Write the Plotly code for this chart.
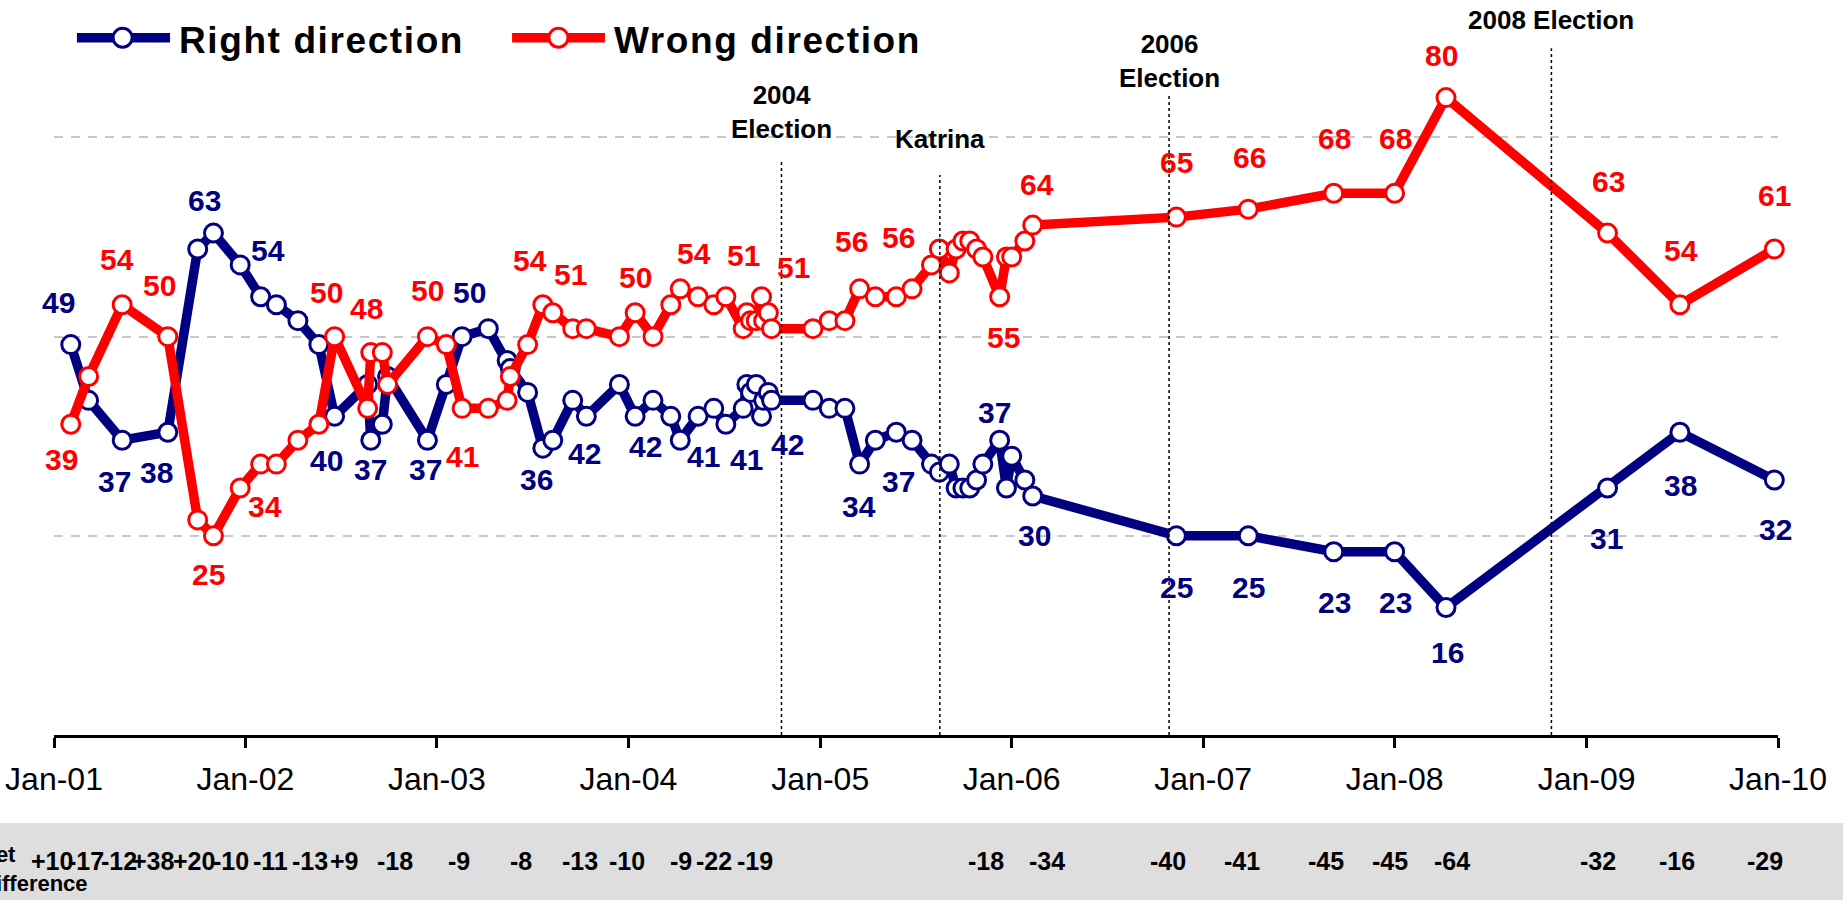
import plotly.graph_objects as go

# ---------------- data ----------------
survey_dates = [
    "2001-02-02", "2001-03-08", "2001-05-11", "2001-08-06", "2001-10-02", "2001-11-01", "2001-12-22",
    "2002-01-30", "2002-03-01", "2002-04-11", "2002-05-21", "2002-06-20", "2002-08-22", "2002-08-28",
    "2002-09-19", "2002-09-29", "2002-12-14",
    "2003-01-19", "2003-02-18", "2003-04-09", "2003-05-15", "2003-05-21", "2003-06-23", "2003-07-22",
    "2003-08-10", "2003-09-17", "2003-10-13", "2003-12-15",
    "2004-01-14", "2004-02-17", "2004-03-22", "2004-04-09", "2004-05-13", "2004-06-12", "2004-07-05",
    "2004-08-07", "2004-08-14", "2004-08-21", "2004-09-01", "2004-09-11", "2004-09-15", "2004-09-24",
    "2004-09-30", "2004-12-18",
    "2005-01-18", "2005-02-17", "2005-03-17", "2005-04-16", "2005-05-26", "2005-06-25", "2005-08-01",
    "2005-08-16", "2005-09-04", "2005-09-17", "2005-09-30", "2005-10-13", "2005-10-26", "2005-11-07",
    "2005-12-09", "2005-12-22",
    "2006-01-01", "2006-01-26", "2006-02-10", "2006-11-11",
    "2007-03-28", "2007-09-07", "2008-01-01", "2008-04-08", "2009-02-10", "2009-06-28", "2009-12-25",
]
right_direction = [
    49, 42, 37, 38, 61, 63, 59,
    55, 54, 52, 49, 40, 44, 37, 39, 45, 37,
    44, 50, 51, 47, 46, 43, 36, 37, 42, 40, 44,
    40, 42, 40, 37, 40, 41, 39, 41, 44, 43, 44, 40, 42, 43, 42, 42,
    41, 41, 34, 37, 38, 37, 34, 33, 34, 31, 31, 31, 32, 34, 37, 31,
    35, 32, 30, 25,
    25, 23, 23, 16, 31, 38, 32,
]
wrong_direction = [
    39, 45, 54, 50, 27, 25, 31,
    34, 34, 37, 39, 50, 41, 48, 48, 44, 50,
    49, 41, 41, 42, 45, 49, 54, 53, 51, 51, 50,
    53, 50, 54, 56, 55, 54, 55, 51, 53, 52, 52, 55, 52, 53, 51, 51,
    52, 52, 56, 55, 55, 56, 59, 61, 58, 61, 62, 62, 61, 60, 55, 60,
    60, 62, 64, 65,
    66, 68, 68, 80, 63, 54, 61,
]
# surveys whose values are printed (0-based index)
labeled_points = [0, 2, 3, 5, 8, 11, 13, 16, 18, 23, 25, 29, 33, 35, 42, 46, 49, 58,
                  62, 63, 64, 65, 66, 67, 68, 69, 70]
# where each net-difference label sits along the time axis (decimal years)
net_label_positions = [2000.988, 2001.169, 2001.341, 2001.519, 2001.731, 2001.924, 2002.129,
                       2002.335, 2002.516, 2002.780, 2003.114, 2003.439, 2003.745, 2003.991,
                       2004.272, 2004.448, 2004.657, 2005.867, 2006.186, 2006.813, 2007.200,
                       2007.639, 2007.974, 2008.296, 2009.058, 2009.473, 2009.934]
event_names = ["2004<br>Election", "Katrina", "2006<br>Election", "2008 Election"]
event_dates = ["2004-10-19", "2005-08-17", "2006-10-28", "2008-10-26"]
year_ticks = list(range(2001, 2011))
tick_labels = ["Jan-%02d" % (y % 100) for y in year_ticks]
series_names = ["Right direction", "Wrong direction"]

# ---------------- layout-only settings ----------------
BLUE = "#000080"
RED = "#FF0000"
FONT = "Liberation Sans, Arial, sans-serif"
# pixel offsets (dx right, dy down) of each printed value from its point
right_label_offsets = [(-12, -42), (-8, 41), (-11, 40), (-9, -33), (-8, -54), (-8, 44), (0, 29),
                       (-2, 29), (7, -44), (-6, 31), (12, 53), (-7, 46), (-10, 48), (3, 51),
                       (16, 44), (-1, 42), (-14, 41), (-5, -28), (2, 40), (0, 52), (0, 52),
                       (1, 51), (1, 51), (1, 45), (-1, 50), (1, 53), (1, 49)]
wrong_label_offsets = [(-9, 35), (-5, -45), (-8, -51), (-5, 39), (-11, 42), (-8, -44), (-4, -44),
                       (0, -46), (0, 48), (-13, -44), (-2, -54), (-17, -59), (-20, -51), (0, -73),
                       (22, -61), (-8, -47), (-14, -51), (4, 41), (4, -41), (0, -55), (1, -52),
                       (1, -55), (1, -55), (-5, -42), (1, -52), (1, -54), (0, -53)]
event_line_top = [72.3, 70.3, 80.3, 86.2]
event_label_y = [78.2, 74.8, 84.6, 89.8]
X_START, X_END = year_ticks[0], year_ticks[-1]

fig = go.Figure()
for name, vals, col in [(series_names[0], right_direction, BLUE),
                        (series_names[1], wrong_direction, RED)]:
    fig.add_trace(go.Scatter(
        x=survey_dates, y=vals, mode="lines+markers", name=name, showlegend=False,
        line=dict(color=col, width=9.5),
        marker=dict(symbol="circle", size=18, color="white", line=dict(color=col, width=3)),
        cliponaxis=False, hoverinfo="x+y",
    ))

annotations = []
shapes = []

# printed values
for vals, offs, col in [(right_direction, right_label_offsets, BLUE),
                        (wrong_direction, wrong_label_offsets, RED)]:
    for idx, (dx, dy) in zip(labeled_points, offs):
        annotations.append(dict(
            x=survey_dates[idx], y=vals[idx], xref="x", yref="y", text=str(vals[idx]),
            showarrow=False, xshift=dx, yshift=-dy, xanchor="center", yanchor="middle",
            font=dict(family=FONT, size=30, color=col, weight="bold"),
        ))

# events
for name, d, top, ly in zip(event_names, event_dates, event_line_top, event_label_y):
    shapes.append(dict(type="line", xref="x", yref="y", x0=d, x1=d, y0=0, y1=top,
                       line=dict(color="black", width=1.5, dash="dot"), layer="above"))
    annotations.append(dict(x=d, y=ly, xref="x", yref="y", text=name, showarrow=False,
                            xanchor="center", yanchor="middle",
                            font=dict(family=FONT, size=26, color="black", weight="bold")))

# net difference band
shapes.append(dict(type="rect", xref="paper", yref="paper", x0=-0.05, x1=1.06,
                   y0=-0.26, y1=-0.12, fillcolor="#dedede", line=dict(width=0), layer="below"))
for idx, pos in zip(labeled_points, net_label_positions):
    diff = right_direction[idx] - wrong_direction[idx]
    txt = ("+%d" % diff) if diff > 0 else str(diff)
    annotations.append(dict(x=(pos - X_START) / (X_END - X_START), y=-0.172,
                            xref="paper", yref="paper",
                            text=txt, showarrow=False, xanchor="center", yanchor="middle",
                            font=dict(family=FONT, size=25, color="black", weight="bold")))
annotations.append(dict(x=-0.044, y=-0.183, xref="paper", yref="paper", xanchor="left",
                        yanchor="middle", align="left", text="Net<br>Difference",
                        showarrow=False,
                        font=dict(family=FONT, size=22, color="black", weight="bold")))

# hand-drawn legend (long line with open circle)
for name, col, x0, x1, xc, xt in [(series_names[0], BLUE, 0.0133, 0.0673, 0.0398, 0.0712),
                                  (series_names[1], RED, 0.2657, 0.3196, 0.2926, 0.3237)]:
    shapes.append(dict(type="line", xref="paper", yref="paper", x0=x0, x1=x1, y0=0.9513,
                       y1=0.9513, line=dict(color=col, width=9.5)))
    shapes.append(dict(type="circle", xref="paper", yref="paper", xsizemode="pixel",
                       ysizemode="pixel", xanchor=xc, yanchor=0.9513, x0=-9.5, x1=9.5,
                       y0=-9.5, y1=9.5, fillcolor="white", line=dict(color=col, width=3)))
    annotations.append(dict(x=xt, y=0.9468, xref="paper", yref="paper", xanchor="left",
                            yanchor="middle",
                            text='<span style="letter-spacing:1.6px">%s</span>' % name,
                            showarrow=False,
                            font=dict(family=FONT, size=37, color="black", weight="bold")))

fig.update_layout(
    width=1843, height=900,
    margin=dict(l=54, r=65, t=2, b=165),
    paper_bgcolor="white", plot_bgcolor="white",
    showlegend=False,
    annotations=annotations, shapes=shapes,
    xaxis=dict(
        type="date", range=["%d-01-01" % X_START, "%d-01-01" % X_END],
        tickvals=["%d-01-01" % y for y in year_ticks], ticktext=tick_labels,
        ticks="outside", ticklen=10, tickwidth=3, tickcolor="black",
        showline=True, linecolor="black", linewidth=3, showgrid=False, zeroline=False,
        tickfont=dict(family=FONT, size=32, color="black"), ticklabelstandoff=4,
    ),
    yaxis=dict(
        range=[0, 92], tickvals=[25, 50, 75], showticklabels=False, ticks="",
        showgrid=True, gridcolor="#c8c8c8", griddash="9px,8px", gridwidth=1.5,
        showline=False, zeroline=False,
    ),
)

fig.write_html(
    "out.html",
    config={"displayModeBar": False},
    post_script="document.body.style.margin='0px';document.body.style.overflow='hidden';",
)
